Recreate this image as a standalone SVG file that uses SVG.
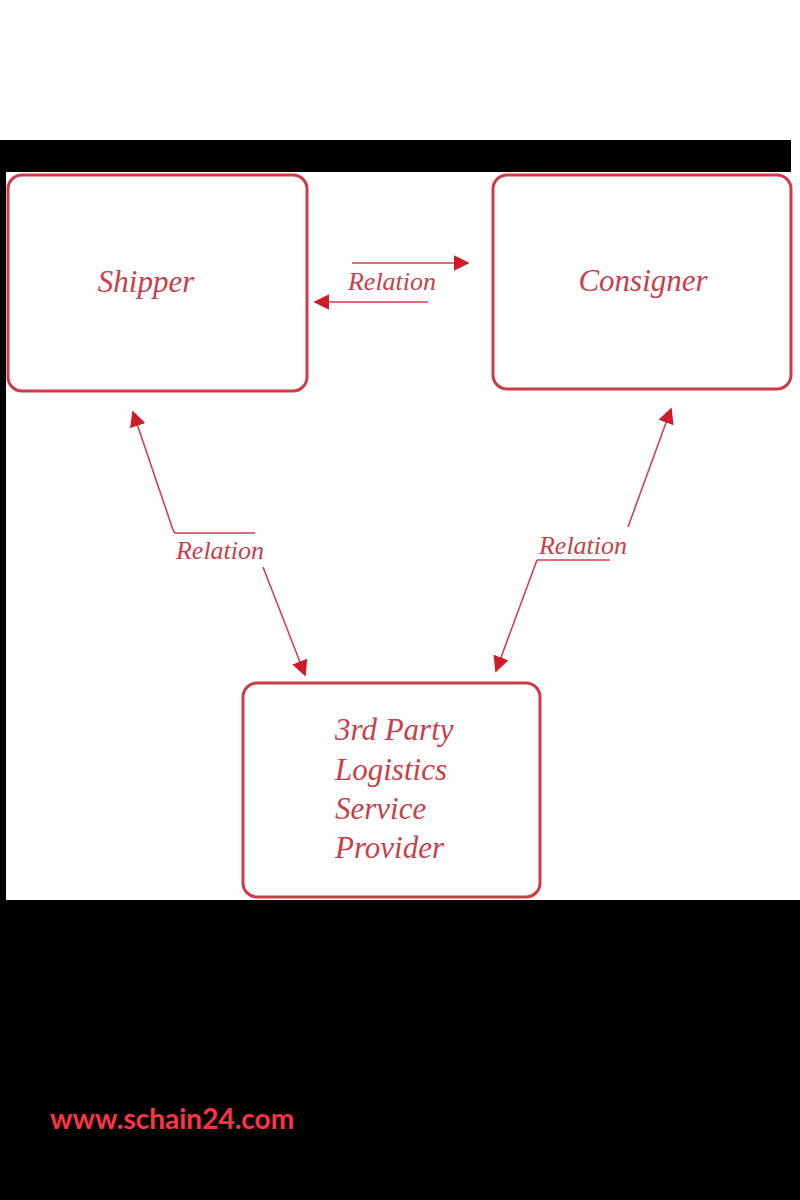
<svg xmlns="http://www.w3.org/2000/svg" width="800" height="1200" viewBox="0 0 800 1200">
<style>
.box{fill:#fff;stroke:#cf3a46;stroke-width:3}
.lbl{font-family:"Liberation Serif",serif;font-style:italic;fill:#c8404a}
.rel{font-family:"Liberation Serif",serif;font-style:italic;fill:#c8404a;font-size:26px}
.ln{stroke:#d4404c;stroke-width:1.6;fill:none}
.web{font-family:Lato,"Liberation Sans",sans-serif;font-weight:bold;font-size:28px;fill:#ff3344}
</style>
<defs>
<marker id="a2" viewBox="0 0 10 10" refX="9" refY="5" markerWidth="10" markerHeight="10" orient="auto" markerUnits="strokeWidth">
<path d="M0,0 L10,5 L0,10 z" fill="#d01c2a"/>
</marker>
</defs>
<rect x="0" y="0" width="800" height="1200" fill="#fff"/>
<rect x="0" y="140" width="791" height="32" fill="#000"/>
<rect x="0" y="172" width="6" height="728" fill="#000"/>
<rect x="0" y="900" width="800" height="300" fill="#000"/>
<g id="shipper">
<rect class="box" x="8" y="175" width="299" height="216" rx="14"/>
<text class="lbl" x="146" y="292" font-size="31" text-anchor="middle">Shipper</text>
</g>
<g id="consigner">
<rect class="box" x="493" y="175" width="298" height="214" rx="14"/>
<text class="lbl" x="643" y="291" font-size="31" text-anchor="middle">Consigner</text>
</g>
<g id="tpl">
<rect class="box" x="243" y="683" width="297" height="214" rx="14"/>
<text class="lbl" font-size="31"><tspan x="335" y="740">3rd Party</tspan><tspan x="335" y="780">Logistics</tspan><tspan x="335" y="819">Service</tspan><tspan x="335" y="858">Provider</tspan></text>
</g>
<g id="connectors">
<line class="ln" x1="352" y1="263" x2="468" y2="263" marker-end="url(#a2)"/>
<line class="ln" x1="428" y1="302" x2="315" y2="302" marker-end="url(#a2)"/>
<text class="rel" x="392" y="290" text-anchor="middle">Relation</text>
<polyline class="ln" points="173,530 175,533 255,533"/>
<line class="ln" x1="173" y1="530" x2="133" y2="412" marker-end="url(#a2)"/>
<line class="ln" x1="263" y1="567" x2="305" y2="675" marker-end="url(#a2)"/>
<text class="rel" x="220" y="559" text-anchor="middle">Relation</text>
<line class="ln" x1="628" y1="527" x2="671" y2="409" marker-end="url(#a2)"/>
<polyline class="ln" points="610,560 537,560"/>
<line class="ln" x1="537" y1="560" x2="496" y2="671" marker-end="url(#a2)"/>
<text class="rel" x="583" y="554" text-anchor="middle">Relation</text>
</g>
<text class="web" x="50" y="1129">www.schain24.com</text>
</svg>
